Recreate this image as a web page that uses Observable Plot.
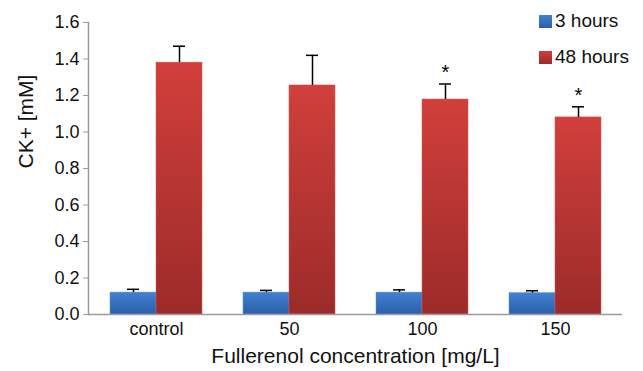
<!DOCTYPE html>
<html>
<head>
<meta charset="utf-8">
<script src="https://cdn.jsdelivr.net/npm/d3@7"></script>
<script src="https://cdn.jsdelivr.net/npm/@observablehq/plot@0.6"></script>
<style>
  body { margin: 0; background: #fff; font-family: "Liberation Sans", Arial, sans-serif; }
  #wrap { position: relative; width: 643px; height: 371px; }
  #legend { position: absolute; left: 539px; top: 3px; font-size: 19px; color: #111; line-height: 36px; }
  #legend .sw { display: inline-block; width: 13px; height: 13px; margin-right: 3px; vertical-align: -1px; }
</style>
</head>
<body>
<div id="wrap"><div id="legend"></div></div>
<script>
const categories = ["control", "50", "100", "150"];
const series = ["3 hours", "48 hours"];
const values3h = [0.12, 0.12, 0.12, 0.117];
const errors3h = [0.018, 0.012, 0.015, 0.013];
const values48h = [1.38, 1.255, 1.178, 1.08];
const errors48h = [0.09, 0.165, 0.085, 0.058];
const stars48h = ["", "", "*", "*"];
const yTicks = [0, 0.2, 0.4, 0.6, 0.8, 1.0, 1.2, 1.4, 1.6];

const d3h = categories.map((c, i) => ({cat: c, v: values3h[i], e: errors3h[i]}));
const d48 = categories.map((c, i) => ({cat: c, v: values48h[i], e: errors48h[i], s: stars48h[i]}));

const half = 46;
const plot = Plot.plot({
  width: 643, height: 371,
  marginLeft: 88, marginRight: 21, marginTop: 22, marginBottom: 57,
  style: {fontFamily: "Liberation Sans, Arial, sans-serif", fontSize: "17px", color: "#111", background: "transparent"},
  x: {domain: categories, paddingInner: 0.31, paddingOuter: 0.155, label: null},
  y: {domain: [0, 1.6], label: null},
  marks: [
    Plot.barY(d3h, {x: "cat", y: "v", fill: "url(#gBlue)", insetRight: half, stroke: "#5b8fd6", strokeWidth: 0.5}),
    Plot.barY(d48, {x: "cat", y: "v", fill: "url(#gRed)", insetLeft: half, stroke: "#d65a56", strokeWidth: 0.5}),
    Plot.ruleX(d3h, {x: "cat", y1: "v", y2: d => d.v + d.e, dx: -23, stroke: "#000", strokeWidth: 1.5}),
    Plot.tickY(d3h, {x: "cat", y: d => d.v + d.e, insetLeft: 17, insetRight: 63, stroke: "#000", strokeWidth: 1.5}),
    Plot.ruleX(d48, {x: "cat", y1: "v", y2: d => d.v + d.e, dx: 23, stroke: "#000", strokeWidth: 1.5}),
    Plot.tickY(d48, {x: "cat", y: d => d.v + d.e, insetLeft: 63, insetRight: 17, stroke: "#000", strokeWidth: 1.5}),
    Plot.text(d48, {x: "cat", y: d => d.v + d.e, text: "s", dx: 23, dy: -11, fontSize: 20, fill: "#000"}),
    Plot.ruleY([0], {stroke: "#9a9a9a", strokeWidth: 1.5}),
    Plot.axisY({ticks: yTicks, tickFormat: d3.format(".1f"), tickSize: 5, tickPadding: 4, stroke: "#9a9a9a", label: null}),
    Plot.frame({anchor: "left", stroke: "#9a9a9a", strokeWidth: 1.5}),
    Plot.axisX({tickSize: 0, tickPadding: 8, label: null}),
    Plot.text(["CK+ [mM]"], {frameAnchor: "left", dx: -62, rotate: -90, fontSize: 21, fill: "#111"}),
    Plot.text(["Fullerenol concentration [mg/L]"], {frameAnchor: "bottom", dy: 48, fontSize: 21, fill: "#111"})
  ]
});

const svg = d3.select(plot);
svg.selectAll('g[aria-label="y-axis tick label"], g[aria-label="x-axis tick label"]')
  .attr("font-size", 18).style("font-size", "18px").attr("fill", "#111");
const defs = svg.insert("defs", ":first-child");
const gr = defs.append("linearGradient").attr("id", "gRed").attr("x1", 0).attr("y1", 0).attr("x2", 0).attr("y2", 1);
gr.append("stop").attr("offset", "0%").attr("stop-color", "#d13f3b");
gr.append("stop").attr("offset", "100%").attr("stop-color", "#9c2b2a");
const gb = defs.append("linearGradient").attr("id", "gBlue").attr("x1", 0).attr("y1", 0).attr("x2", 0).attr("y2", 1);
gb.append("stop").attr("offset", "0%").attr("stop-color", "#4181d2");
gb.append("stop").attr("offset", "100%").attr("stop-color", "#2b5fa8");

document.getElementById("wrap").prepend(plot);

const legend = document.getElementById("legend");
const colors = ["linear-gradient(#4181d2,#2b5fa8)", "linear-gradient(#d13f3b,#9c2b2a)"];
series.forEach((s, i) => {
  const row = document.createElement("div");
  const sw = document.createElement("span");
  sw.className = "sw"; sw.style.background = colors[i];
  row.appendChild(sw);
  row.appendChild(document.createTextNode(s));
  legend.appendChild(row);
});
</script>
</body>
</html>
